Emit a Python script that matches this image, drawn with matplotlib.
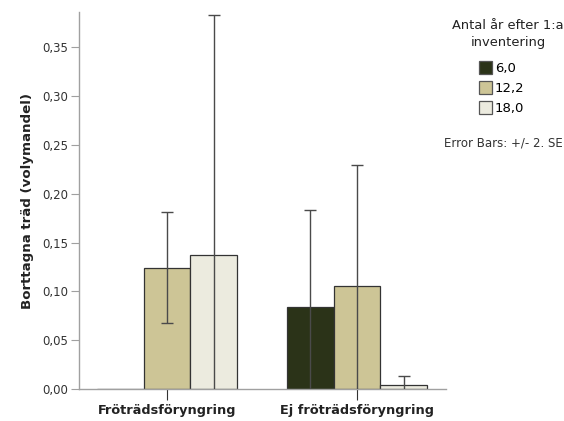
#!/usr/bin/env python3
"""borttagna_trad.py"""

import matplotlib
matplotlib.use("Agg")
import matplotlib.pyplot as plt
import numpy as np
from matplotlib.patches import Patch

# values
groups = ["Fröträdsföryngring", "Ej fröträdsföryngring"]
years = ["6,0", "12,2", "18,0"]
means_6 = [0.0, 0.0843]
means_12 = [0.1243, 0.1060]
means_18 = [0.1370, 0.0040]
err_6 = [0.0, 0.0987]
err_12 = [0.0567, 0.1235]
err_18 = [0.2460, 0.0096]

colors = ["#2b3318", "#cdc596", "#ecebdf"]


def plot(ax):
    x = np.arange(len(groups))
    width = 0.2456
    series = [(means_6, err_6), (means_12, err_12), (means_18, err_18)]
    for i, (m, e) in enumerate(series):
        pos = x + (i - 1) * width
        ax.bar(pos, m, width, color=colors[i], edgecolor="#333333",
               linewidth=0.9, zorder=2)
        # only draw error bars where there is an error
        mask = np.array(e) > 0
        ax.errorbar(pos[mask], np.array(m)[mask], yerr=np.array(e)[mask],
                    fmt="none", ecolor="#4a4a4a", elinewidth=1.0,
                    capsize=4, capthick=1.0, zorder=3)

    ax.set_xlim(-0.463, 1.468)
    ax.set_ylim(0, 0.3863)
    ax.set_xticks(x)
    ax.set_xticklabels(groups, fontsize=9.3, fontweight="bold",
                       color="#222222")
    yt = np.arange(0, 0.36, 0.05)
    ax.set_yticks(yt)
    ax.set_yticklabels([f"{v:.2f}".replace(".", ",") for v in yt],
                       fontsize=8.5, color="#333333")
    ax.set_ylabel("Borttagna träd (volymandel)", fontsize=9.6,
                  fontweight="bold", color="#222222", labelpad=6)

    for s in ["top", "right"]:
        ax.spines[s].set_visible(False)
    for s in ["left", "bottom"]:
        ax.spines[s].set_color("#a0a0a0")
        ax.spines[s].set_linewidth(1.0)
    ax.tick_params(axis="y", length=6, color="#a0a0a0", pad=2)
    ax.tick_params(axis="x", length=8, color="#333333", pad=3)


def main():
    fig = plt.figure(figsize=(5.64, 4.21), dpi=100)
    ax = fig.add_axes([0.140, 0.076, 0.651, 0.8955])
    plot(ax)

    fig.text(0.901, 0.955, "Antal år efter 1:a\ninventering", ha="center",
             va="top", fontsize=9.4, color="#222222", linespacing=1.45)
    handles = [Patch(facecolor=c, edgecolor="#555555", linewidth=0.9)
               for c in colors]
    fig.legend(handles, years, loc="upper left",
               bbox_to_anchor=(0.849, 0.854), frameon=False, fontsize=9.5,
               handlelength=1.0, handleheight=1.05, handletextpad=0.22,
               labelspacing=0.48, borderpad=0, borderaxespad=0)
    fig.text(0.892, 0.66, "Error Bars: +/- 2. SE", ha="center", va="center",
             fontsize=8.5, color="#333333")

    fig.savefig("out.png", dpi=100)


if __name__ == "__main__":
    main()
